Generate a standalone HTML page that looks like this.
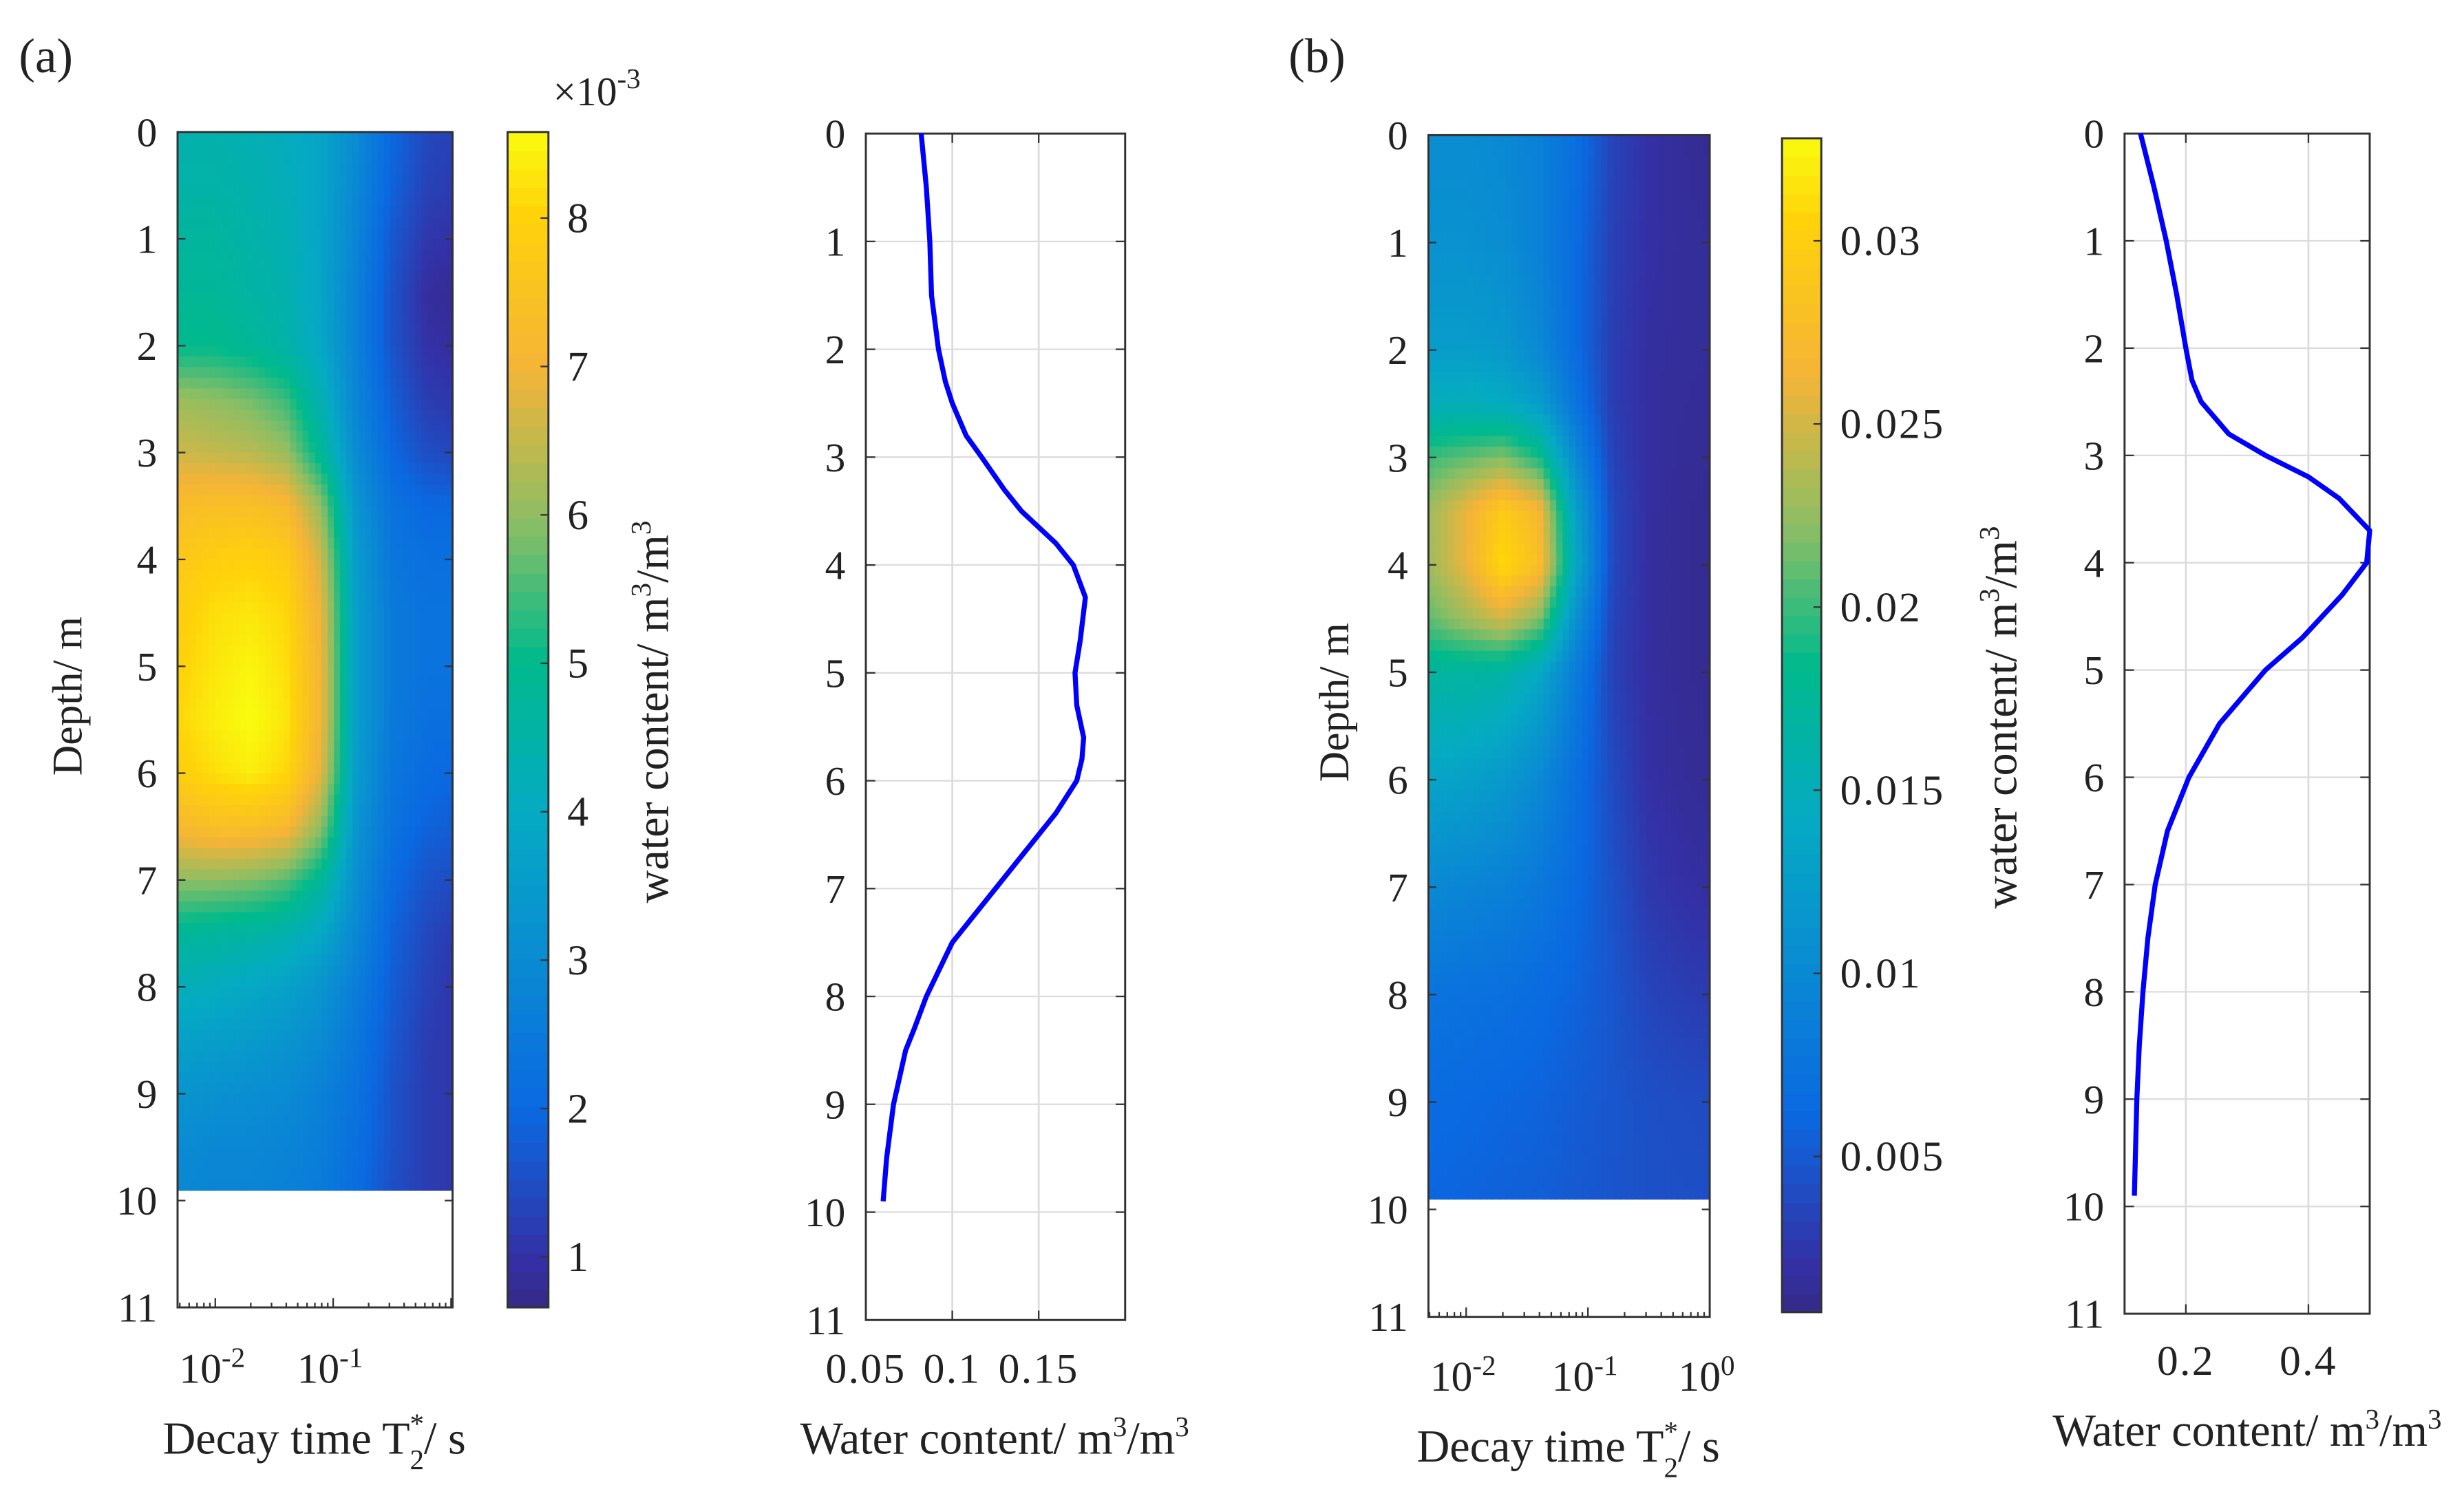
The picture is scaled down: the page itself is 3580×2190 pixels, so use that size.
<!DOCTYPE html>
<html><head><meta charset="utf-8">
<style>
html,body{margin:0;padding:0;background:#fff;}
svg{display:block;}
text{font-family:"Liberation Serif",serif;fill:#222;}
</style></head>
<body>
<svg id="fig" xmlns="http://www.w3.org/2000/svg" width="3580" height="2190" viewBox="0 0 1568 959" preserveAspectRatio="none">
<rect x="0" y="0" width="1568" height="959" fill="#fff"/>
<g id="root"></g>
</svg>
<script>
// ---------- data ----------
const logTCols = [-2.3,-2.0,-1.7,-1.4,-1.1,-0.8,-0.5,-0.2,0.0];
const depthsA = [0,0.5,1,1.5,2,2.5,3,3.5,4,4.5,5,5.5,6,6.5,7,7.5,8,8.5,9,9.5,10];
const gridA = [
[4.4,4.4,4.3,4.1,3.8,3.0,2.0,1.4,1.3],
[4.5,4.5,4.4,4.2,3.8,2.9,1.9,1.3,1.2],
[4.7,4.7,4.5,4.3,3.8,2.8,1.7,1.1,1.0],
[4.8,4.8,4.6,4.4,3.8,2.7,1.6,0.9,0.8],
[5.0,5.0,4.8,4.5,3.9,2.7,1.6,1.0,0.9],
[6.1,6.0,5.8,5.4,4.3,2.8,1.8,1.2,1.1],
[6.6,6.5,6.4,6.1,4.8,3.0,2.0,1.5,1.4],
[7.3,7.4,7.4,7.2,6.0,3.3,2.3,2.0,2.0],
[7.7,7.9,8.0,7.8,6.6,3.5,2.4,2.2,2.2],
[7.9,8.2,8.3,8.1,6.9,3.6,2.5,2.3,2.3],
[8.0,8.3,8.5,8.2,7.0,3.6,2.5,2.3,2.3],
[8.1,8.4,8.6,8.3,7.0,3.6,2.5,2.2,2.2],
[7.9,8.2,8.4,8.1,6.8,3.5,2.4,2.1,2.0],
[7.2,7.4,7.4,7.2,6.0,3.3,2.3,1.9,1.8],
[6.0,6.0,5.9,5.6,4.8,3.1,2.1,1.6,1.5],
[4.8,4.7,4.6,4.4,3.9,2.9,1.9,1.4,1.2],
[4.2,4.1,3.9,3.7,3.3,2.6,1.8,1.3,1.1],
[3.7,3.6,3.5,3.3,3.0,2.4,1.7,1.2,1.1],
[3.3,3.2,3.1,3.0,2.7,2.3,1.6,1.2,1.1],
[3.0,2.9,2.9,2.8,2.6,2.2,1.6,1.2,1.1],
[2.9,2.8,2.8,2.7,2.5,2.1,1.5,1.2,1.1]];
const depthsB = [0,1,2,2.5,3,3.5,4,4.5,5,6,7,8,9,10];
const gridB = [
[10.5,10.5,10,9,7,3.5,2,1.5,1.2],
[11,11,10.5,9,6.5,3.2,2,1.6,1.5],
[12.5,12.5,12,10,6.5,3,1.8,1.6,1.5],
[15,15,14.5,12.5,7.5,3,1.8,1.5,1.4],
[20,21,22,19,10,3.4,1.8,1.4,1.3],
[23,26,29.5,27,13,3.8,1.8,1.3,1.2],
[23,26,31,28,14,3.8,1.8,1.3,1.2],
[21,23,25,22,11,3.5,1.8,1.3,1.2],
[17,17,16.5,14,8.5,3.3,1.8,1.3,1.2],
[13.5,13,12,10,7,4,2,1.5,1.3],
[10,9.5,9,8,6.5,4.5,2.6,2,1.8],
[7.5,7.2,7,6.5,5.8,4.8,3.5,3,2.8],
[6.5,6.3,6,5.8,5.3,4.8,4.3,4.1,4],
[6,5.8,5.6,5.4,5,4.7,4.4,4.3,4.3]];
const profDepthA = [0,0.5,1,1.5,2,2.3,2.5,2.8,3,3.3,3.5,3.8,4,4.3,4.7,5,5.3,5.6,5.8,6,6.3,6.6,7,7.3,7.5,8,8.3,8.5,9,9.5,9.9];
const profValA = [0.082,0.085,0.087,0.088,0.092,0.096,0.1,0.108,0.117,0.13,0.14,0.16,0.17,0.177,0.174,0.171,0.172,0.176,0.175,0.172,0.16,0.145,0.125,0.11,0.1,0.085,0.078,0.073,0.066,0.062,0.06];
const profDepthB = [0,0.5,1,1.5,2,2.3,2.5,2.8,3,3.2,3.4,3.7,4,4.3,4.7,5,5.5,6,6.5,7,7.5,8,8.5,9,9.9];
const profValB = [0.126,0.148,0.168,0.185,0.2,0.21,0.225,0.27,0.33,0.4,0.45,0.5,0.495,0.455,0.39,0.33,0.255,0.205,0.17,0.15,0.138,0.13,0.124,0.12,0.116];
const depthTicks = [0,1,2,3,4,5,6,7,8,9,10,11];
const cbTicksA = [1,2,3,4,5,6,7,8];
const cbTicksB = [0.005,0.01,0.015,0.02,0.025,0.03];
const profTicksA = [0.05,0.1,0.15];
const profTicksB = [0.2,0.4];

// ---------- helpers ----------
const NS="http://www.w3.org/2000/svg";
const root=document.getElementById('root');
function mk(tag,attrs,parent){const e=document.createElementNS(NS,tag);for(const k in attrs)e.setAttribute(k,attrs[k]);(parent||root).appendChild(e);return e;}
const stops=[[0,[53,42,135]],[0.04,[52,48,165]],[0.17,[10,105,225]],[0.30,[10,140,210]],[0.42,[5,170,195]],[0.55,[0,186,140]],[0.67,[140,190,100]],[0.80,[245,180,55]],[0.93,[255,210,10]],[1,[249,251,14]]];
function cmap(f){f=Math.max(0,Math.min(1,f));for(let i=1;i<stops.length;i++){if(f<=stops[i][0]){const a=stops[i-1],b=stops[i];const t=(f-a[0])/(b[0]-a[0]);const c=a[1].map((v,k)=>Math.round(v+(b[1][k]-v)*t));return `rgb(${c[0]},${c[1]},${c[2]})`;}}return 'rgb(249,251,14)';}
function interp(xs,ys,x){if(x<=xs[0])return ys[0];for(let i=1;i<xs.length;i++){if(x<=xs[i]){const t=(x-xs[i-1])/(xs[i]-xs[i-1]);return ys[i-1]+(ys[i]-ys[i-1])*t;}}return ys[ys.length-1];}
function bil(depths,grid,d,lt){const row=logTCols.map((_,j)=>interp(depths,grid.map(r=>r[j]),d));return interp(logTCols,row,lt);}
function txt(s,x,y,size,anchor,parent){const t=mk('text',{x:x,y:y,'font-size':size,'text-anchor':anchor||'start'},parent);t.textContent=s;return t;}

function heatPanel(p){
  const g=mk('g',{});
  
  
  const yS=d=>p.y0+(p.y1-p.y0)*d/11;
  const xS=lt=>p.x0+(p.x1-p.x0)*(lt-p.lt0)/(p.lt1-p.lt0);
  const nc=44, dStep=0.1;
  for(let k=0; k<99; k++){
    const d=k*dStep;
    for(let i=0;i<nc;i++){
      const lt0=p.lt0+(p.lt1-p.lt0)*i/nc, lt1=p.lt0+(p.lt1-p.lt0)*(i+1)/nc;
      const v=bil(p.depths,p.grid,d+dStep/2,(lt0+lt1)/2);
      const r=mk('rect',{x:xS(lt0),y:yS(d),width:xS(lt1)-xS(lt0)+0.6,height:yS(d+dStep)-yS(d)+0.6,fill:cmap((v-p.vmin)/(p.vmax-p.vmin))},g);
      
      
    }
  }
  const ax=mk('rect',{x:p.x0,y:p.y0,width:p.x1-p.x0,height:p.y1-p.y0,fill:'none',stroke:'#333','stroke-width':1.3});
  
  
  depthTicks.forEach(d=>{
    const y=yS(d);
    mk('line',{x1:p.x0,x2:p.x0+5,y1:y,y2:y,stroke:'#333','stroke-width':1});
    mk('line',{x1:p.x1,x2:p.x1-5,y1:y,y2:y,stroke:'#333','stroke-width':1});
    const t=txt(String(d),p.x0-13,y+9,26,'end');
    
    
  });
  for(let e=-3;e<=0;e++){for(let m=1;m<10;m++){const lt=e+Math.log10(m);if(lt<p.lt0||lt>p.lt1+1e-6)continue;const x=xS(lt);const len=m===1?6:3;mk('line',{x1:x,x2:x,y1:p.y1,y2:p.y1-len,stroke:'#333','stroke-width':1});}}
  p.decades.forEach(e=>{
    const x=xS(e);
    const t=mk('text',{x:x-2,y:p.xly,'font-size':27,'text-anchor':'middle'});
    
    
    t.appendChild(document.createTextNode('10'));
    const s=mk('tspan',{dy:-10,'font-size':18},t);s.textContent=String(e);
  });
  const yl=mk('text',{x:0,y:0,'font-size':27,'text-anchor':'middle',transform:`translate(${p.ylx},${(p.y0+p.y1)/2-15}) rotate(-90)`});
  yl.textContent='Depth/ m';
  
  
  const xl=mk('text',{x:p.xtx,y:p.xty,'font-size':29,'text-anchor':'middle'});
  
  
  xl.appendChild(document.createTextNode('Decay time T'));
  const s1=mk('tspan',{dy:10,'font-size':18},xl);s1.textContent='2';
  const s2=mk('tspan',{dx:-9,dy:-23,'font-size':18},xl);s2.textContent='*';
  const s3=mk('tspan',{dy:13},xl);s3.textContent='/ s';
}

function colorbar(p){
  const g=mk('g',{});
  
  
  const n=64;
  for(let i=0;i<n;i++){
    const y=p.y1-(p.y1-p.y0)*(i+1)/n;
    mk('rect',{x:p.x0,y:y,width:p.x1-p.x0,height:(p.y1-p.y0)/n+0.6,fill:cmap((i+0.5)/n)},g);
  }
  mk('rect',{x:p.x0,y:p.y0,width:p.x1-p.x0,height:p.y1-p.y0,fill:'none',stroke:'#333','stroke-width':1.3},g);
  const yS=v=>p.y1-(p.y1-p.y0)*(v-p.vmin)/(p.vmax-p.vmin);
  p.ticks.forEach(v=>{
    const y=yS(v);
    mk('line',{x1:p.x1,x2:p.x1-5,y1:y,y2:y,stroke:'#333','stroke-width':1},g);
    const t=txt(String(v),p.x1+12,y+9,27,'start',g);
    t.setAttribute('letter-spacing','1.2');
    
    
  });
  const l=mk('text',{x:0,y:0,'font-size':29,'text-anchor':'middle',transform:`translate(${p.lx},${(p.y0+p.y1)/2-5}) rotate(-90)`},g);
  
  
  l.appendChild(document.createTextNode('water content/ m'));
  const a=mk('tspan',{dy:-11,'font-size':18},l);a.textContent='3';
  const b=mk('tspan',{dy:11},l);b.textContent='/m';
  const c=mk('tspan',{dy:-11,'font-size':18},l);c.textContent='3';
}

function profile(p){
  const g=mk('g',{});
  
  
  const yS=d=>p.y0+(p.y1-p.y0)*d/11;
  const xS=v=>p.x0+(p.x1-p.x0)*(v-p.v0)/(p.v1-p.v0);
  depthTicks.forEach(d=>{
    const y=yS(d);
    if(d>0&&d<11) mk('line',{x1:p.x0,x2:p.x1,y1:y,y2:y,stroke:'#dcdcdc','stroke-width':1},g);
    mk('line',{x1:p.x0,x2:p.x0+6,y1:y,y2:y,stroke:'#333','stroke-width':1},g);
    mk('line',{x1:p.x1,x2:p.x1-6,y1:y,y2:y,stroke:'#333','stroke-width':1},g);
    const t=txt(String(d),p.x0-13,y+9,26,'end',g);
    
    
  });
  p.ticks.forEach(v=>{
    const x=xS(v);
    if(x>p.x0+1&&x<p.x1-1) mk('line',{x1:x,x2:x,y1:p.y0,y2:p.y1,stroke:'#dcdcdc','stroke-width':1.2},g);
    mk('line',{x1:x,x2:x,y1:p.y1,y2:p.y1-6,stroke:'#333','stroke-width':1},g);
    mk('line',{x1:x,x2:x,y1:p.y0,y2:p.y0+6,stroke:'#333','stroke-width':1},g);
    const t=txt(String(v),x,p.xly,27,'middle',g);
    t.setAttribute('letter-spacing','1');
    
    
  });
  mk('rect',{x:p.x0,y:p.y0,width:p.x1-p.x0,height:p.y1-p.y0,fill:'none',stroke:'#333','stroke-width':1.3},g);
  let dstr='';
  p.depths.forEach((d,i)=>{dstr+=(i?'L':'M')+xS(p.vals[i]).toFixed(2)+','+yS(d).toFixed(2);});
  const line=mk('path',{d:dstr,fill:'none',stroke:'#0000ff','stroke-width':3.2,'stroke-linejoin':'round'},g);
  
  
  const xl=mk('text',{x:p.xtx,y:p.xty,'font-size':29,'text-anchor':'middle'},g);
  
  
  xl.appendChild(document.createTextNode('Water content/ m'));
  const a=mk('tspan',{dy:-11,'font-size':18},xl);a.textContent='3';
  const b=mk('tspan',{dy:11},xl);b.textContent='/m';
  const c=mk('tspan',{dy:-11,'font-size':18},xl);c.textContent='3';
}

// ---------- panel a ----------
const la=txt('(a)',12,46,31,'start');


heatPanel({name:'panel-a',x0:113,x1:288,y0:84,y1:832,lt0:-2.32,lt1:0.013,depths:depthsA,grid:gridA,vmin:0.66,vmax:8.58,decades:[-2,-1],xly:880,ylx:52,xtx:200,xty:925});
colorbar({name:'panel-a',x0:323,x1:349,y0:84,y1:832,vmin:0.66,vmax:8.58,ticks:cbTicksA,lx:425});
const ex=mk('text',{x:352,y:67,'font-size':26});


ex.appendChild(document.createTextNode('\u00d710'));
const exs=mk('tspan',{dy:-11,'font-size':18},ex);exs.textContent='-3';
profile({name:'panel-a',x0:551,x1:716,y0:85,y1:840,v0:0.05,v1:0.2,ticks:profTicksA,depths:profDepthA,vals:profValA,xly:880,xtx:633,xty:925});

// ---------- panel b ----------
const lb=txt('(b)',820,46,31,'start');


heatPanel({name:'panel-b',x0:909,x1:1088,y0:86,y1:838,lt0:-2.31,lt1:0,depths:depthsB,grid:gridB,vmin:0.75,vmax:32.8,decades:[-2,-1,0],xly:885,ylx:858,xtx:998,xty:930});
colorbar({name:'panel-b',x0:1134,x1:1159,y0:88,y1:835,vmin:0.00075,vmax:0.0328,ticks:cbTicksB,lx:1283});
profile({name:'panel-b',x0:1352,x1:1508,y0:85,y1:836,v0:0.1,v1:0.5,ticks:profTicksB,depths:profDepthB,vals:profValB,xly:875,xtx:1430,xty:920});
</script>
</body></html>
